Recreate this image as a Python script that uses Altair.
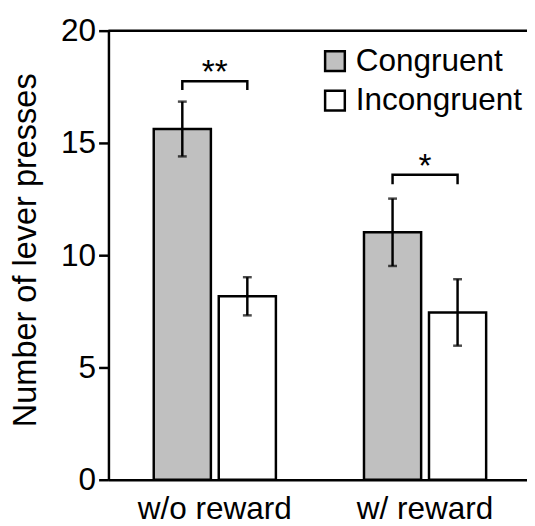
import altair as alt
import pandas as pd

groups = ["w/o reward", "w/ reward"]
conditions = ["Congruent", "Incongruent"]
bar_group = ["w/o reward", "w/o reward", "w/ reward", "w/ reward"]
bar_cond = ["Congruent", "Incongruent", "Congruent", "Incongruent"]
means = [15.62, 8.17, 11.02, 7.45]
sems = [1.22, 0.85, 1.50, 1.48]

# significance brackets
br_group = ["w/o reward", "w/ reward"]
br_top = [17.75, 13.58]
br_drop = [17.41, 13.21]
star_text = ["**", "*"]
star_y = [17.65, 13.49]

FONT = "Liberation Sans"
FS = 32

bars_df = pd.DataFrame({
    "group": bar_group,
    "cond": bar_cond,
    "mean": means,
    "lo": [m - s for m, s in zip(means, sems)],
    "hi": [m + s for m, s in zip(means, sems)],
})

rows = []
for g, t, d in zip(br_group, br_top, br_drop):
    rows += [
        {"group": g, "cond": conditions[0], "y": d, "o": 0},
        {"group": g, "cond": conditions[0], "y": t, "o": 1},
        {"group": g, "cond": conditions[1], "y": t, "o": 2},
        {"group": g, "cond": conditions[1], "y": d, "o": 3},
    ]
br_df = pd.DataFrame(rows)
star_df = pd.DataFrame({"group": br_group, "label": star_text, "y": star_y})

x_enc = alt.X(
    "group:N", sort=groups,
    scale=alt.Scale(range=[0, 429.5], paddingInner=0.419, paddingOuter=0.2154),
    axis=alt.Axis(title=None, labelAngle=0, ticks=False, tickSize=0, labelPadding=14,
                  labelFontSize=FS, labelFont=FONT, labelColor="black",
                  domainColor="black", domainWidth=2.5),
)
xo_enc = alt.XOffset("cond:N", sort=conditions,
                     scale=alt.Scale(paddingInner=0.121, paddingOuter=0))
y_scale = alt.Scale(domain=[0, 20], nice=False)

bars = alt.Chart(bars_df).mark_bar(stroke="black", strokeWidth=2.5).encode(
    x=x_enc, xOffset=xo_enc,
    y=alt.Y("mean:Q", scale=y_scale,
            axis=alt.Axis(title="Number of lever presses", values=[0, 5, 10, 15, 20],
                          grid=False, tickSize=10, tickWidth=2.5, tickColor="black",
                          domainColor="black", domainWidth=2.5, labelPadding=3,
                          labelFontSize=FS, labelFont=FONT, labelColor="black",
                          titleFontSize=33, titleFont=FONT, titleFontWeight="normal",
                          titleColor="black", titleX=-74, titleY=222.5, titleLimit=1000,
                          titleBaseline="alphabetic", titleAlign="center")),
    fill=alt.Fill("cond:N", sort=conditions,
                  scale=alt.Scale(domain=conditions, range=["#c0c0c0", "#ffffff"]),
                  legend=alt.Legend(title=None, orient="none", legendX=214, legendY=15,
                                    symbolType="square", symbolSize=400,
                                    symbolStrokeColor="black", symbolStrokeWidth=2.5,
                                    labelFontSize=FS, labelFont=FONT, labelColor="black",
                                    labelLimit=400, labelOffset=5, rowPadding=8, padding=0)),
)

err = alt.Chart(bars_df).mark_rule(color="black", strokeWidth=2.5).encode(
    x=x_enc, xOffset=xo_enc, y=alt.Y("lo:Q", scale=y_scale), y2="hi:Q")
cap_lo = alt.Chart(bars_df).mark_tick(color="black", thickness=2.5, size=9).encode(
    x=x_enc, xOffset=xo_enc, y=alt.Y("lo:Q", scale=y_scale))
cap_hi = alt.Chart(bars_df).mark_tick(color="black", thickness=2.5, size=9).encode(
    x=x_enc, xOffset=xo_enc, y=alt.Y("hi:Q", scale=y_scale))

brackets = alt.Chart(br_df).mark_line(color="black", strokeWidth=2.5, strokeCap="square").encode(
    x=x_enc, xOffset=xo_enc, y=alt.Y("y:Q", scale=y_scale),
    order="o:Q", detail="group:N")

stars = alt.Chart(star_df).mark_text(font=FONT, fontSize=34, color="black",
                                     baseline="alphabetic", align="center").encode(
    x=x_enc, y=alt.Y("y:Q", scale=y_scale), text="label:N")

top_line = alt.Chart(pd.DataFrame({"v": [20]})).mark_rule(color="black", strokeWidth=2.5).encode(
    y=alt.Y("v:Q", scale=y_scale))

chart = alt.layer(bars, err, cap_lo, cap_hi, brackets, stars, top_line).properties(
    width=425, height=456,
    autosize=alt.AutoSizeParams(type="none"),
    padding={"left": 102, "top": 19, "right": 0, "bottom": 45},
).configure_view(stroke=None).configure_axis(labelFont=FONT, titleFont=FONT)

chart.save("out.html", embed_options={"renderer": "svg", "actions": False})
